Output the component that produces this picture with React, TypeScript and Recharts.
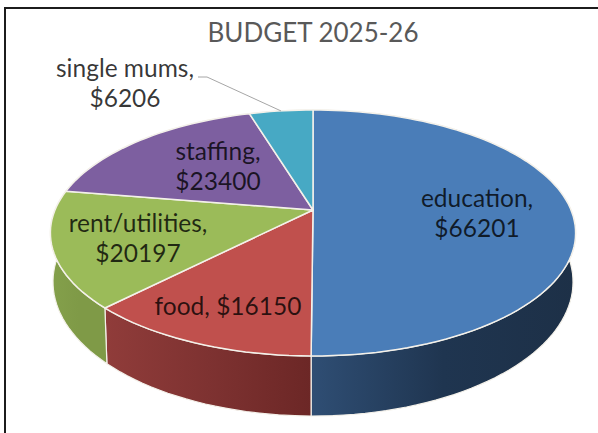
import React from 'react'
import { PieChart, Pie, Cell } from 'recharts'

const categories = ['education', 'food', 'rent/utilities', 'staffing', 'single mums']
const amounts = [66201, 16150, 20197, 23400, 6206]
const topColors = ['#4a7db8', '#c0504d', '#9bbb59', '#7d5fa0', '#47a9c4']
const wallGradients = [
  ['#2f4e74', '#1f3550', '#1d3047'],
  ['#903c3a', '#7e3231', '#6c2726'],
  ['#84a04b', '#7f9a47', '#7f9a47'],
  ['#5f4679', '#5f4679', '#5f4679'],
  ['#35808f', '#35808f', '#35808f']
]
const labelLines = [
  ['education,', '$66201'],
  ['food, $16150'],
  ['rent/utilities,', '$20197'],
  ['staffing,', '$23400'],
  ['single mums,', '$6206']
]
const labelAnchors = [
  { x: 477, y: 207 },
  { x: 228, y: 315 },
  { x: 138, y: 232 },
  { x: 218, y: 160 },
  { x: 125, y: 77 }
]

const data = categories.map((name, i) => ({ name, value: amounts[i] }))

const CX = 313
const CY = 210
const RADIUS = 258
const FONT = "Lato, 'Open Sans', sans-serif"

// perspective tilt of the disc: the pie centre sits above the middle of the ellipse
const TILT = 0.187
const SQUASH = 0.46

function rim(deg: number) {
  const a = (deg * Math.PI) / 180
  const u = Math.cos(a)
  const v = Math.sin(a)
  const d = 1 + TILT * v
  return { x: CX + (RADIUS * u) / d, y: CY - (RADIUS * SQUASH * v) / d }
}

function floor(deg: number) {
  const p = rim(deg)
  return { x: CX + (p.x - CX) * 0.99, y: p.y + 60 - (356 - p.y) * 0.09 }
}

function arcPoints(from: number, to: number, fn: (d: number) => { x: number; y: number }) {
  const steps = Math.max(2, Math.ceil(Math.abs(to - from) / 2))
  const pts: string[] = []
  for (let i = 0; i <= steps; i++) {
    const p = fn(from + ((to - from) * i) / steps)
    pts.push(`${p.x.toFixed(1)} ${p.y.toFixed(1)}`)
  }
  return pts
}

function TopSlice(props: any) {
  const pts = arcPoints(props.startAngle, props.endAngle, rim)
  return (
    <path
      d={`M${CX} ${CY}L${pts.join('L')}Z`}
      fill={props.fill}
      stroke="#f4f1ea"
      strokeWidth={1.5}
      strokeLinejoin="round"
    />
  )
}

function WallSlice(props: any) {
  const top = arcPoints(props.startAngle, props.endAngle, rim)
  const bottom = arcPoints(props.endAngle, props.startAngle, floor)
  return (
    <path
      d={`M${top.join('L')}L${bottom.join('L')}Z`}
      fill={`url(#wall${props.index})`}
      stroke="#f4f1ea"
      strokeWidth={1.2}
      strokeLinejoin="round"
    />
  )
}

function SliceLabel(props: any) {
  const i = props.index
  const anchor = labelAnchors[i]
  const end = rim(props.midAngle)
  return (
    <g>
      {categories[i] === 'single mums' && (
        <polyline
          points={`198,77 207,77 ${end.x},${end.y}`}
          fill="none"
          stroke="#a6a6a6"
          strokeWidth={1}
        />
      )}
      <text x={anchor.x} y={anchor.y} textAnchor="middle" fontFamily={FONT} fontSize={24.5} fill="#000" fillOpacity={0.78}>
        {labelLines[i].map((line, n) => (
          <tspan key={n} x={anchor.x} dy={n === 0 ? 0 : 30}>
            {line}
          </tspan>
        ))}
      </text>
    </g>
  )
}

export default function App() {
  return (
    <div style={{ position: 'absolute', left: 0, top: 0, width: 598, height: 433, background: '#fff', overflow: 'hidden' }}>
      <div style={{ position: 'absolute', left: 4, top: 7, width: 640, height: 480, border: '2px solid #1c1c1c' }} />
      <PieChart width={598} height={433} margin={{ top: 0, right: 0, bottom: 0, left: 0 }} style={{ position: 'absolute', left: 0, top: 0 }}>
        <defs>
          {wallGradients.map((stops, i) => (
            <linearGradient key={i} id={`wall${i}`} x1="0" y1="0" x2="1" y2="0">
              <stop offset="0%" stopColor={stops[0]} />
              <stop offset="50%" stopColor={stops[1]} />
              <stop offset="100%" stopColor={stops[2]} />
            </linearGradient>
          ))}
        </defs>
        <text x={313} y={42} textAnchor="middle" fontFamily={FONT} fontSize={26} fill="#595959">
          BUDGET 2025-26
        </text>
        <Pie
          data={data}
          dataKey="value"
          cx={CX}
          cy={CY}
          outerRadius={RADIUS}
          startAngle={90}
          endAngle={-270}
          stroke="none"
          shape={WallSlice}
          isAnimationActive={false}
        />
        <Pie
          data={data}
          dataKey="value"
          cx={CX}
          cy={CY}
          outerRadius={RADIUS}
          startAngle={90}
          endAngle={-270}
          shape={TopSlice}
          label={SliceLabel}
          labelLine={false}
          isAnimationActive={false}
        >
          {data.map((d, i) => (
            <Cell key={d.name} fill={topColors[i]} />
          ))}
        </Pie>
      </PieChart>
    </div>
  )
}
